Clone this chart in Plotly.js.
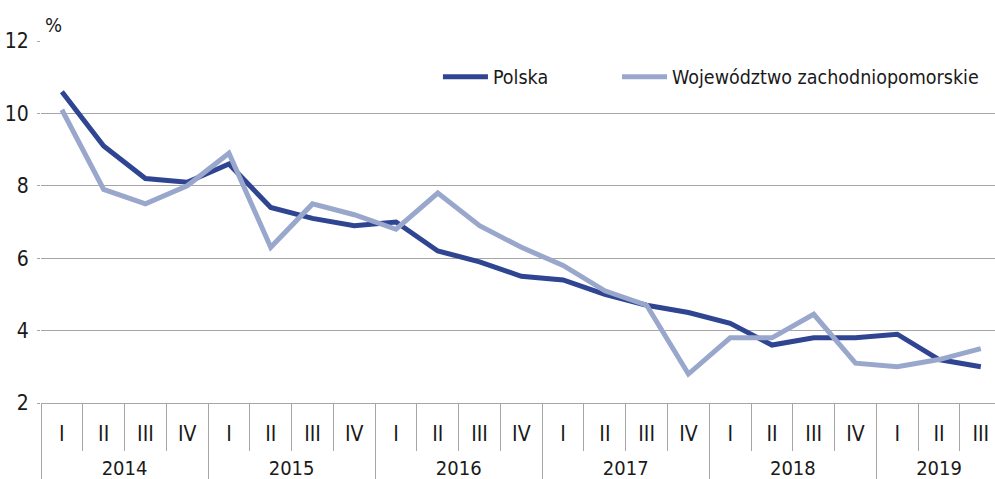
<!DOCTYPE html>
<html><head><meta charset="utf-8">
<script src="https://cdn.plot.ly/plotly-3.0.1.min.js"></script>
<style>html,body{margin:0;padding:0;background:#fff}#chart{width:995px;height:479px}</style>
</head><body><div id="chart"></div>
<script>
const years = ['2014','2014','2014','2014','2015','2015','2015','2015','2016','2016','2016','2016','2017','2017','2017','2017','2018','2018','2018','2018','2019','2019','2019'];
const quarters = ['I','II','III','IV','I','II','III','IV','I','II','III','IV','I','II','III','IV','I','II','III','IV','I','II','III'];
const polska = [10.6,9.1,8.2,8.1,8.6,7.4,7.1,6.9,7.0,6.2,5.9,5.5,5.4,5.0,4.7,4.5,4.2,3.6,3.8,3.8,3.9,3.2,3.0];
const zachodniopomorskie = [10.1,7.9,7.5,8.0,8.9,6.3,7.5,7.2,6.8,7.8,6.9,6.3,5.8,5.1,4.7,2.8,3.8,3.8,4.45,3.1,3.0,3.2,3.5];
const seriesNames = ['Polska','Województwo zachodniopomorskie'];

const FONT = '"DejaVu Sans Condensed", "Liberation Sans Narrow", Arial, sans-serif';
const GRID = '#a6a6a6';
const TXT = '#1a1a1a';

// positions of quarters on the category scale (index of each period)
const idx = quarters.map((q, i) => i);
// year groups: label centred over its quarters
const yearLabels = [...new Set(years)];
const yearCenters = yearLabels.map(y => {
  const ii = idx.filter(i => years[i] === y);
  return (ii[0] + ii[ii.length - 1]) / 2;
});
const XR = [-0.5, 22.34];

const traces = [
  {x:idx, y:polska, name:seriesNames[0], type:'scatter', mode:'lines',
   line:{color:'#2f4592', width:5}, legend:'legend', xaxis:'x', yaxis:'y'},
  {x:idx, y:zachodniopomorskie, name:seriesNames[1], type:'scatter', mode:'lines',
   line:{color:'#9aa7cc', width:5}, legend:'legend2', xaxis:'x2', yaxis:'y'}
];

const legendBase = {orientation:'h', xanchor:'left', y:0.9006, yanchor:'middle', itemwidth:45,
  font:{family:FONT, size:19.5, color:TXT}, bgcolor:'rgba(0,0,0,0)'};

const layout = {
  width:995, height:479,
  margin:{l:41, r:0, t:41, b:76},
  paper_bgcolor:'#fff', plot_bgcolor:'#fff',
  font:{family:FONT, color:TXT, size:20},
  showlegend:true,
  legend:Object.assign({}, legendBase, {x:0.4161}),
  legend2:Object.assign({}, legendBase, {x:0.6038}),
  xaxis:{type:'linear', range:XR, showgrid:false, zeroline:false,
         showline:true, linecolor:GRID, linewidth:1,
         tickmode:'array', tickvals:idx, ticktext:quarters, ticks:'',
         minor:{tick0:-0.5, dtick:1, ticks:'outside', ticklen:47, tickcolor:GRID, tickwidth:1, showgrid:false},
         ticklabelstandoff:12,
         tickfont:{family:FONT, size:21, color:TXT}},
  xaxis2:{type:'linear', overlaying:'x', anchor:'y', side:'bottom', range:XR,
          showgrid:false, zeroline:false, showline:false,
          tickmode:'array', tickvals:yearCenters, ticktext:yearLabels, ticks:'',
          minor:{tick0:-0.5, dtick:4, ticks:'outside', ticklen:76, tickcolor:GRID, tickwidth:1, showgrid:false},
          ticklabelstandoff:51,
          tickfont:{family:FONT, size:20, color:TXT}},
  yaxis:{range:[2,12], dtick:2, tick0:2, showgrid:true, gridcolor:GRID, gridwidth:1,
         zeroline:false, showline:false, ticks:'outside', ticklen:3, tickcolor:GRID,
         ticklabelstandoff:4,
         tickfont:{family:FONT, size:21, color:TXT}},
  annotations:[{text:'%', xref:'paper', yref:'paper', x:0.0126, y:1.044, xanchor:'center', yanchor:'middle',
                showarrow:false, font:{family:FONT, size:20, color:TXT}}]
};

Plotly.newPlot('chart', traces, layout, {displayModeBar:false, staticPlot:true});
</script></body></html>
